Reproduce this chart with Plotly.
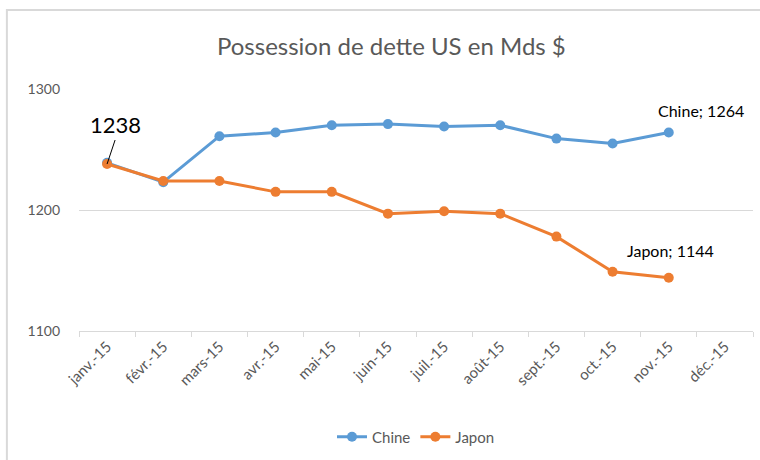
import plotly.graph_objects as go

mois = ["janv.-15", "févr.-15", "mars-15", "avr.-15", "mai-15", "juin-15",
        "juil.-15", "août-15", "sept.-15", "oct.-15", "nov.-15", "déc.-15"]
chine = [1239, 1223, 1261, 1264, 1270, 1271, 1269, 1270, 1259, 1255, 1264, None]
japon = [1238, 1224, 1224, 1215, 1215, 1197, 1199, 1197, 1178, 1149, 1144, None]

BLEU = "#5B9BD5"
ORANGE = "#ED7D31"
GRIS = "#595959"
FONT = "Lato"

fig = go.Figure()
fig.add_trace(go.Scatter(x=mois, y=chine, name="Chine", mode="lines+markers",
                         line=dict(color=BLEU, width=3), marker=dict(size=10, color=BLEU)))
fig.add_trace(go.Scatter(x=mois, y=japon, name="Japon", mode="lines+markers",
                         line=dict(color=ORANGE, width=3), marker=dict(size=10, color=ORANGE)))

# étiquettes de données
fig.add_annotation(x=mois[0], y=japon[0], text=str(japon[0]), showarrow=True,
                   arrowhead=0, arrowwidth=1, arrowcolor="black", ax=8, ay=-24,
                   font=dict(size=22, color="black", family=FONT), yanchor="bottom")
fig.add_annotation(x=mois[10], y=chine[10], text=f"Chine; {chine[10]}", showarrow=False,
                   xshift=32, yshift=22, font=dict(size=16, color="black", family=FONT))
fig.add_annotation(x=mois[10], y=japon[10], text=f"Japon; {japon[10]}", showarrow=False,
                   xshift=2, yshift=27, font=dict(size=16, color="black", family=FONT))

# cadre du graphique
fig.add_shape(type="rect", xref="paper", yref="paper", x0=-0.107, x1=1.2, y0=-0.6, y1=1.326,
              line=dict(color="#d9d9d9", width=2), layer="below")

fig.update_layout(
    width=760, height=460,
    margin=dict(l=79, r=7, t=89, b=129, autoexpand=False),
    paper_bgcolor="white", plot_bgcolor="white",
    title=dict(text="Possession de dette US en Mds $", x=0.515, xanchor="center",
               y=0.898, yanchor="middle", font=dict(size=24, color=GRIS, family=FONT)),
    font=dict(family=FONT, color=GRIS, size=14),
    legend=dict(orientation="h", x=0.5, xanchor="center", y=-0.37, yanchor="top",
                font=dict(size=15, color=GRIS)),
    showlegend=True,
)
fig.update_xaxes(type="category", tickangle=-45, tickson="boundaries", ticks="outside",
                 ticklen=5, tickcolor="#d9d9d9", showline=True, linecolor="#d9d9d9",
                 showgrid=False, tickfont=dict(size=15, color=GRIS), range=[-0.5, 11.5],
                 automargin=False)
fig.update_yaxes(range=[1100, 1300], dtick=100, showgrid=True, gridcolor="#d9d9d9",
                 zeroline=False, tickfont=dict(size=14, color=GRIS), ticklabelstandoff=18,
                 automargin=False)

fig.write_html("out.html", config={"displayModeBar": False},
               post_script="document.body.style.margin='0';")
